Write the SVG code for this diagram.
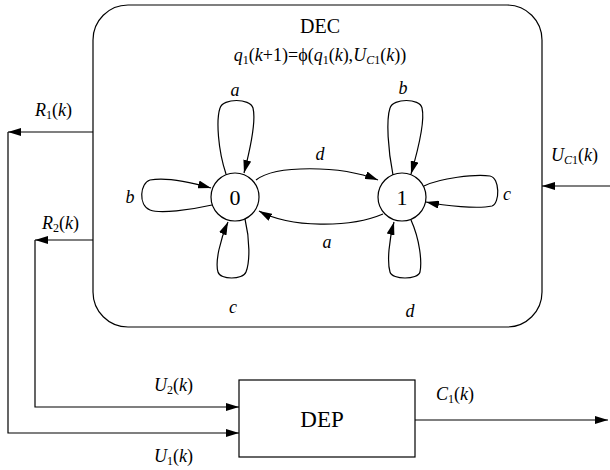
<svg xmlns="http://www.w3.org/2000/svg" width="610" height="470" viewBox="0 0 610 470">
<defs>
<marker id="ar" viewBox="0 0 13 8" refX="13" refY="4" markerWidth="13" markerHeight="8" markerUnits="userSpaceOnUse" orient="auto">
<path d="M0,0 L13,4 L0,8 Z" fill="#000"/>
</marker>
<style>
.ln{fill:none;stroke:#000;stroke-width:1.2}
.ed{fill:none;stroke:#000;stroke-width:1.2;marker-end:url(#ar)}
.t{font-family:"Liberation Serif",serif;font-size:18px;fill:#000}
.i{font-style:italic}
.s{font-size:12px}
.big{font-size:20px}
.num{font-size:22px}
.dep{font-size:23px}
</style>
</defs>
<rect width="610" height="470" fill="#fff"/>
<g id="DEC">
<rect x="93" y="5" width="449" height="322" rx="35" class="ln"/>
<text class="t big" x="320" y="33" text-anchor="middle">DEC</text>
<text class="t" x="320" y="61" text-anchor="middle"><tspan class="i">q</tspan><tspan class="s" dy="3">1</tspan><tspan dy="-3">(</tspan><tspan class="i">k</tspan>+1)=ϕ(<tspan class="i">q</tspan><tspan class="s" dy="3">1</tspan><tspan dy="-3">(</tspan><tspan class="i">k</tspan>),<tspan class="i">U</tspan><tspan class="s i" dy="3">C</tspan><tspan class="s">1</tspan><tspan dy="-3">(</tspan><tspan class="i">k</tspan>))</text>
</g>
<g id="node0">
<circle cx="235" cy="197" r="24" class="ln"/>
<text class="t num" x="235" y="205" text-anchor="middle">0</text>
</g>
<g id="node1">
<circle cx="402" cy="197" r="24" class="ln"/>
<text class="t num" x="402" y="205" text-anchor="middle">1</text>
</g>
<g id="DEP">
<rect x="239" y="380" width="176" height="77" class="ln"/>
<text class="t dep" x="322" y="427" text-anchor="middle">DEP</text>
</g>
<g id="connectors">
<path class="ed" d="M226,174 C218,150 216,120 220,108 C223,98 250,98 253,108 C256,120 250,150 244,173"/>
<path class="ed" d="M212,205 C190,210 160,214 150,210 C138,205 140,183 150,180 C165,177 190,182 211,188"/>
<path class="ed" d="M245,219 C250,240 250,262 246,272 C243,280 220,280 218,272 C215,262 220,240 228,222"/>
<path class="ed" d="M393,175 C388,150 386,120 390,108 C393,98 420,98 422,108 C425,120 418,150 411,174"/>
<path class="ed" d="M424,186 C440,178 475,174 490,176 C500,178 500,203 492,206 C478,209 445,206 426,202"/>
<path class="ed" d="M411,220 C420,240 422,262 420,272 C418,280 392,280 390,272 C387,262 389,240 394,222"/>
<path class="ed" d="M256,180 C275,165 340,165 378,180"/>
<path class="ed" d="M383,214 C350,228 290,228 259,211"/>
<path class="ed" d="M610,186 L542,186"/>
<path class="ed" d="M93,132 L8,132"/>
<path class="ed" d="M93,240 L35,240"/>
<path class="ed" d="M35,240 L35,407 L239,407"/>
<path class="ed" d="M8,132 L8,433 L239,433"/>
<path class="ed" d="M415,420 L608,420"/>
<text class="t i" x="235" y="96" text-anchor="middle">a</text>
<text class="t i" x="130" y="203" text-anchor="middle">b</text>
<text class="t i" x="233" y="313" text-anchor="middle">c</text>
<text class="t i" x="403" y="94" text-anchor="middle">b</text>
<text class="t i" x="507" y="200" text-anchor="middle">c</text>
<text class="t i" x="410" y="317" text-anchor="middle">d</text>
<text class="t i" x="320" y="160" text-anchor="middle">d</text>
<text class="t i" x="327" y="248" text-anchor="middle">a</text>
<text class="t" x="551" y="161"><tspan class="i">U</tspan><tspan class="s i" dy="3">C</tspan><tspan class="s">1</tspan><tspan dy="-3">(</tspan><tspan class="i">k</tspan>)</text>
<text class="t" x="35" y="116"><tspan class="i">R</tspan><tspan class="s" dy="3">1</tspan><tspan dy="-3">(</tspan><tspan class="i">k</tspan>)</text>
<text class="t" x="42" y="229"><tspan class="i">R</tspan><tspan class="s" dy="3">2</tspan><tspan dy="-3">(</tspan><tspan class="i">k</tspan>)</text>
<text class="t" x="154" y="391"><tspan class="i">U</tspan><tspan class="s" dy="3">2</tspan><tspan dy="-3">(</tspan><tspan class="i">k</tspan>)</text>
<text class="t" x="154" y="462"><tspan class="i">U</tspan><tspan class="s" dy="3">1</tspan><tspan dy="-3">(</tspan><tspan class="i">k</tspan>)</text>
<text class="t" x="436" y="400"><tspan class="i">C</tspan><tspan class="s" dy="3">1</tspan><tspan dy="-3">(</tspan><tspan class="i">k</tspan>)</text>
</g>
</svg>
